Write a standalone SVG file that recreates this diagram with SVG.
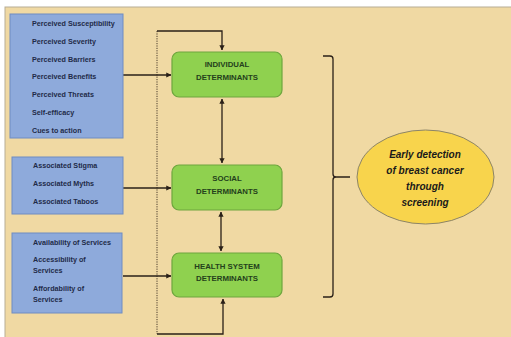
<svg xmlns="http://www.w3.org/2000/svg" width="511" height="337" viewBox="0 0 511 337">
<style>
.panel{fill:#f0d9a3;stroke:#b8ad95;stroke-width:1}
.blue{fill:#8eaadb;stroke:#6f8cc2;stroke-width:1}
.btxt{font-family:"Liberation Sans",Arial,sans-serif;font-weight:bold;font-size:7.2px;fill:#1f2a48}
.green{fill:#8fd14f;stroke:#6ea63e;stroke-width:1.2}
.gtxt{font-family:"Liberation Sans",Arial,sans-serif;font-weight:bold;font-size:7.8px;fill:#24401c;text-anchor:middle}
.oval{fill:#f8d44c;stroke:#8c8468;stroke-width:1}
.otxt{font-family:"Liberation Sans",Arial,sans-serif;font-weight:bold;font-style:italic;font-size:10px;fill:#1a1a1a;text-anchor:middle}
.ln{fill:none;stroke:#2a2018;stroke-width:1.3}
.dot{fill:none;stroke:#4a3c2c;stroke-width:1;stroke-dasharray:1.2 1.2}
</style>
<defs>
<marker id="ah" viewBox="0 0 6 6" refX="5.5" refY="3" markerWidth="4" markerHeight="4" orient="auto-start-reverse">
<path d="M0,0 L6,3 L0,6 z" fill="#2a2018"/>
</marker>
<pattern id="tex" width="6" height="6" patternUnits="userSpaceOnUse">
<rect width="6" height="6" fill="#f0d9a3"/>
<path d="M0.5,0 V6" stroke="#e6cc92" stroke-width="0.6" opacity="0.6"/>
<path d="M0,3.5 H6" stroke="#f5e2b4" stroke-width="0.6" opacity="0.6"/>
</pattern>
</defs>
<rect x="0" y="0" width="511" height="337" fill="#ffffff"/>
<rect x="5" y="7" width="510" height="335" class="panel" fill="url(#tex)"/>

<g id="connectors">
<path class="dot" d="M157,31 V334"/>
<path class="ln" d="M157,31 H222 V50" marker-end="url(#ah)"/>
<path class="ln" d="M157,334 H223 V299" marker-end="url(#ah)"/>
<path class="ln" d="M123,75 H171" marker-end="url(#ah)"/>
<path class="ln" d="M123,188 H171" marker-end="url(#ah)"/>
<path class="ln" d="M123,276 H171" marker-end="url(#ah)"/>
<path class="ln" d="M222,99 V163" marker-start="url(#ah)" marker-end="url(#ah)"/>
<path class="ln" d="M221,212 V251" marker-start="url(#ah)" marker-end="url(#ah)"/>
<path class="ln" d="M323,56 H330 Q333,56 333,59 V174 Q333,177 336,177 H350 M336,177 Q333,177 333,180 V294 Q333,297 330,297 H323"/>
</g>

<g id="box-individual-factors">
<rect class="blue" x="10" y="14" width="113" height="124"/>
<text class="btxt" x="32" y="26">Perceived Susceptibility</text>
<text class="btxt" x="32" y="44">Perceived Severity</text>
<text class="btxt" x="32" y="62">Perceived Barriers</text>
<text class="btxt" x="32" y="79">Perceived Benefits</text>
<text class="btxt" x="32" y="97">Perceived Threats</text>
<text class="btxt" x="32" y="115">Self-efficacy</text>
<text class="btxt" x="32" y="133">Cues to action</text>
</g>

<g id="box-social-factors">
<rect class="blue" x="12" y="157" width="111" height="57"/>
<text class="btxt" x="33" y="168">Associated Stigma</text>
<text class="btxt" x="33" y="186">Associated Myths</text>
<text class="btxt" x="33" y="204">Associated Taboos</text>
</g>

<g id="box-health-factors">
<rect class="blue" x="12" y="233" width="110" height="80"/>
<text class="btxt" x="33" y="245">Availability of Services</text>
<text class="btxt" x="33" y="262">Accessibility of</text>
<text class="btxt" x="33" y="273">Services</text>
<text class="btxt" x="33" y="291">Affordability of</text>
<text class="btxt" x="33" y="302">Services</text>
</g>

<g id="individual-determinants">
<rect class="green" x="172" y="52" width="110" height="45" rx="7"/>
<text class="gtxt" x="227" y="67">INDIVIDUAL</text>
<text class="gtxt" x="227" y="80">DETERMINANTS</text>
</g>

<g id="social-determinants">
<rect class="green" x="172" y="165" width="110" height="45" rx="7"/>
<text class="gtxt" x="227" y="181">SOCIAL</text>
<text class="gtxt" x="227" y="194">DETERMINANTS</text>
</g>

<g id="health-system-determinants">
<rect class="green" x="172" y="253" width="110" height="44" rx="7"/>
<text class="gtxt" x="227" y="269">HEALTH SYSTEM</text>
<text class="gtxt" x="227" y="281">DETERMINANTS</text>
</g>

<g id="early-detection">
<ellipse class="oval" cx="425.5" cy="177" rx="68.5" ry="47"/>
<text class="otxt" x="425" y="158">Early detection</text>
<text class="otxt" x="425" y="174">of breast cancer</text>
<text class="otxt" x="425" y="190">through</text>
<text class="otxt" x="425" y="206">screening</text>
</g>
</svg>
